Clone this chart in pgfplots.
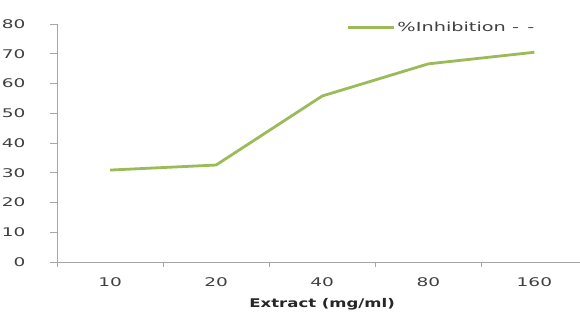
\documentclass[border=0pt]{standalone}
\usepackage{pgfplots}
\pgfplotsset{compat=1.18}
\usepackage{fontspec}
\setmainfont[FakeStretch=1.55, BoldFeatures={FakeStretch=1.38}]{DejaVu Sans}
\definecolor{lgreen}{HTML}{9BBB59}
\definecolor{axgray}{HTML}{A6A6A6}
\definecolor{txt}{HTML}{404040}
\begin{document}
\begin{tikzpicture}
\begin{axis}[name=ax,
  at={(0,0)}, anchor=south west,
  scale only axis, width=523bp, height=238bp,
  xmin=-0.5, xmax=4.43, ymin=0, ymax=80,
  axis lines=left, axis line style={axgray, line width=0.9pt, -},
  xtick={0,1,2,3,4}, xticklabels={10,20,40,80,160},
  minor xtick={-0.5,0.5,1.5,2.5,3.5},
  major x tick style={draw=none},
  minor x tick style={axgray, line width=0.9pt},
  minor tick length=4.5bp,
  ytick={0,10,...,80},
  y tick style={axgray, line width=0.9pt},
  major tick length=7bp,
  tick align=outside,
  tick label style={font=\fontsize{12}{14}\selectfont, text=txt},
  /pgf/number format/assume math mode=true,
  yticklabel style={xshift=-21bp},
  xticklabel style={yshift=-5bp},
  xlabel={\textbf{Extract (mg/ml)}},
  x label style={font=\fontsize{12}{14}\selectfont, text=black!85, at={(axis description cs:0.507,0)}, anchor=north, yshift=-33bp},
  legend style={draw=none, fill=none, at={(axis description cs:0.5545,0.985)}, anchor=west, font=\fontsize{12.5}{14}\selectfont, text=txt, inner sep=0pt, outer sep=0pt},
  legend cell align=left,
  legend image code/.code={\draw[#1, line width=2.5pt] (0cm,0cm) -- (46bp,0cm);},
  clip=false,
]
\addplot[lgreen, line width=2.8pt, line join=round] coordinates {(0,30.9) (1,32.6) (2,55.8) (3,66.6) (4,70.5)};
\addlegendentry{\%Inhibition\ -\ \,-}
\end{axis}
\pgfresetboundingbox
\path (ax.south west) ++(-57bp,-51bp) rectangle ++(580bp,313bp);
\end{tikzpicture}
\end{document}
